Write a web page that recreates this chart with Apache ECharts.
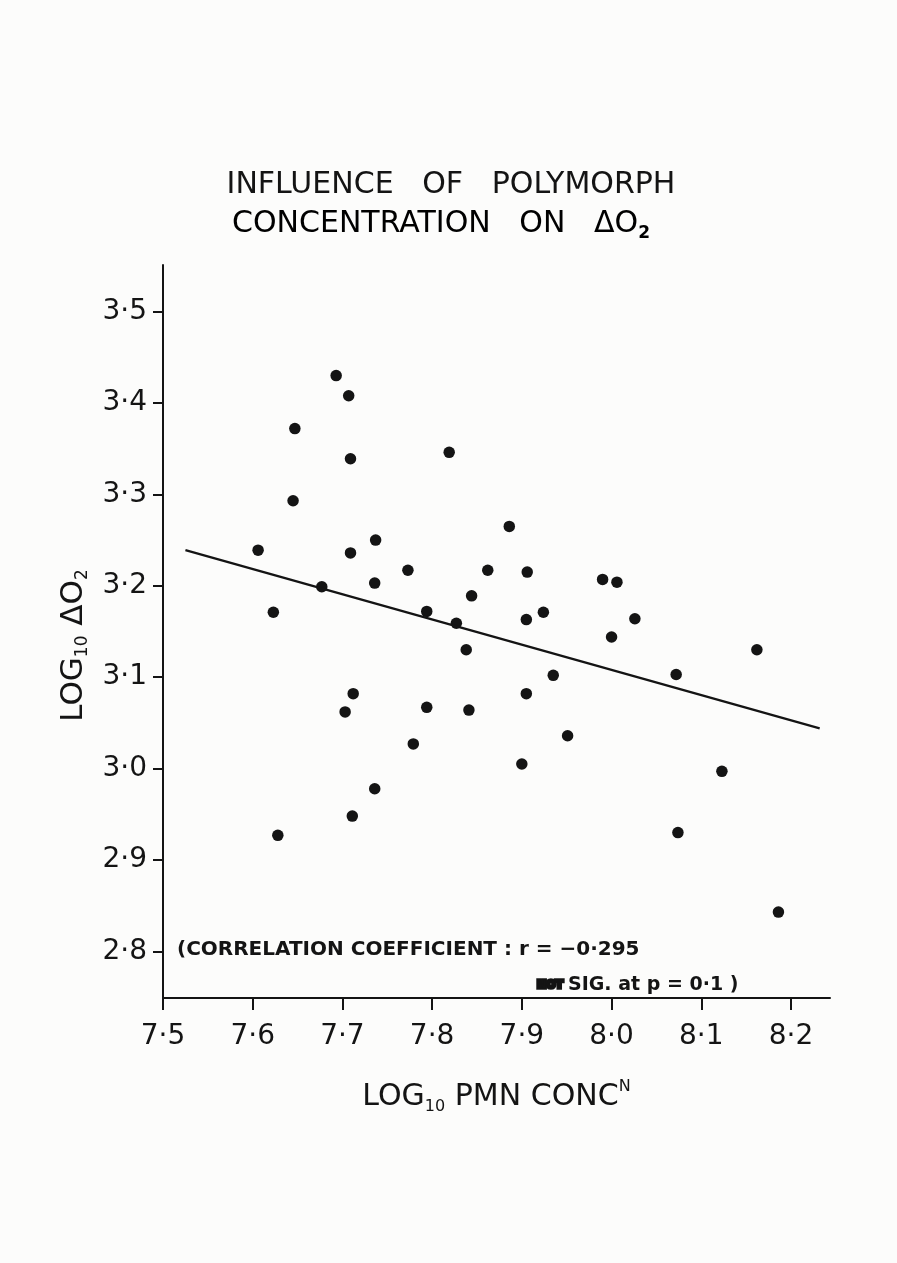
<!DOCTYPE html>
<html>
<head>
<meta charset="utf-8">
<script src="https://cdn.jsdelivr.net/npm/echarts@6/dist/echarts.min.js"></script>
<style>
html,body{margin:0;padding:0;background:#fcfcfb;}
#c{width:897px;height:1263px;}
</style>
</head>
<body>
<div id="c"></div>
<script>
// ---- data ----
const pmnLog = [7.693, 7.707, 7.647, 7.709, 7.819, 7.645, 7.737, 7.606, 7.709, 7.773,
                7.862, 7.736, 7.677, 7.844, 7.623, 7.794, 7.827, 7.838, 7.886, 7.906,
                7.990, 8.006, 7.924, 7.905, 8.026, 8.000, 8.162, 7.935, 8.072, 7.905,
                7.841, 7.951, 7.900, 8.123, 8.074, 8.186, 7.712, 7.703, 7.794, 7.779,
                7.736, 7.711, 7.628];
const dO2Log = [3.430, 3.408, 3.372, 3.339, 3.346, 3.293, 3.250, 3.239, 3.236, 3.217,
                3.217, 3.203, 3.199, 3.189, 3.171, 3.172, 3.159, 3.130, 3.265, 3.215,
                3.207, 3.204, 3.171, 3.163, 3.164, 3.144, 3.130, 3.102, 3.103, 3.082,
                3.064, 3.036, 3.005, 2.997, 2.930, 2.843, 3.082, 3.062, 3.067, 3.027,
                2.978, 2.948, 2.927];
const fitX = [7.525, 8.232];
const fitY = [3.239, 3.044];
const xTicks = [7.5, 7.6, 7.7, 7.8, 7.9, 8.0, 8.1, 8.2];
const yTicks = [2.8, 2.9, 3.0, 3.1, 3.2, 3.3, 3.4, 3.5];
const xRange = [7.5, 8.2435];
const yRange = [2.749, 3.551];
const titleLines = ['INFLUENCE   OF   POLYMORPH', 'CONCENTRATION   ON   ΔO'];
const noteLine1 = '(CORRELATION COEFFICIENT : r = −0·295';
const noteStruck = 'NOT';
const noteLine2 = 'SIG. at p = 0·1 )';

const FONT = '"DejaVu Sans", "Liberation Sans", sans-serif';
const INK = '#141414';
const fmt = v => v.toFixed(1).replace('.', '·');

const chart = echarts.init(document.getElementById('c'));
chart.setOption({
  animation: false,
  backgroundColor: '#fcfcfb',
  grid: {left: 163, right: 67, top: 265, bottom: 265, containLabel: false},
  xAxis: {
    type: 'value', min: xRange[0], max: xRange[1],
    splitLine: {show: false},
    axisLine: {show: true, lineStyle: {color: INK, width: 2}},
    axisTick: {show: true, length: 12, lineStyle: {color: INK, width: 2}, customValues: xTicks},
    axisLabel: {color: INK, fontFamily: FONT, fontSize: 28, margin: 25, customValues: xTicks, formatter: fmt},
    name: '{a|LOG}{s|10}{a| PMN CONC}{u|N}',
    nameLocation: 'middle', nameGap: 81,
    nameTextStyle: {
      rich: {
        a: {fontFamily: FONT, fontSize: 30, color: INK, lineHeight: 36},
        s: {fontFamily: FONT, fontSize: 16, color: INK, verticalAlign: 'bottom', lineHeight: 36, padding: [16, 0, 0, 0]},
        u: {fontFamily: FONT, fontSize: 16, color: INK, verticalAlign: 'top', lineHeight: 22}
      }
    }
  },
  yAxis: {
    type: 'value', min: yRange[0], max: yRange[1],
    splitLine: {show: false},
    axisLine: {show: true, lineStyle: {color: INK, width: 2}},
    axisTick: {show: true, length: 10, lineStyle: {color: INK, width: 2}, customValues: yTicks},
    axisLabel: {color: INK, fontFamily: FONT, fontSize: 28, margin: 16, customValues: yTicks, formatter: fmt},
    name: '{a|LOG}{s|10}{a| ΔO}{s|2}',
    nameLocation: 'middle', nameGap: 68, nameRotate: 90,
    nameTextStyle: {
      padding: [0, 28, 0, 0],
      rich: {
        a: {fontFamily: FONT, fontSize: 31, color: INK, lineHeight: 36},
        s: {fontFamily: FONT, fontSize: 17, color: INK, verticalAlign: 'bottom', lineHeight: 36, padding: [16, 0, 0, 0]}
      }
    }
  },
  series: [
    {
      type: 'scatter',
      symbol: 'circle', symbolSize: 11.5,
      itemStyle: {color: INK, opacity: 1},
      data: pmnLog.map((x, i) => [x, dO2Log[i]])
    },
    {
      type: 'line',
      symbol: 'none',
      lineStyle: {color: INK, width: 2.2},
      data: fitX.map((x, i) => [x, fitY[i]])
    }
  ],
  graphic: [
    {type: 'text', x: 451, y: 185, style: {text: titleLines[0], font: '30px ' + FONT, fill: INK, align: 'center', verticalAlign: 'middle'}},
    {type: 'text', x: 441, y: 224, style: {
      text: '{a|' + titleLines[1] + '}{s|2}', align: 'center', verticalAlign: 'middle',
      rich: {
        a: {fontFamily: FONT, fontSize: 30, color: INK, lineHeight: 36},
        s: {fontFamily: FONT, fontSize: 17, fontWeight: 'bold', color: INK, verticalAlign: 'bottom', lineHeight: 36, padding: [16, 0, 0, 0]}
      }}},
    {type: 'text', x: 177, y: 950, style: {text: noteLine1, font: 'bold 20px ' + FONT, fill: INK, align: 'left', verticalAlign: 'middle'}},
    {type: 'text', x: 537, y: 985, style: {text: noteStruck, font: 'bold 11px ' + FONT, fill: INK, stroke: INK, lineWidth: 3.5, align: 'left', verticalAlign: 'middle'}},
    {type: 'text', x: 568, y: 985, style: {text: noteLine2, font: 'bold 19px ' + FONT, fill: INK, align: 'left', verticalAlign: 'middle'}}
  ]
});
</script>
</body>
</html>
